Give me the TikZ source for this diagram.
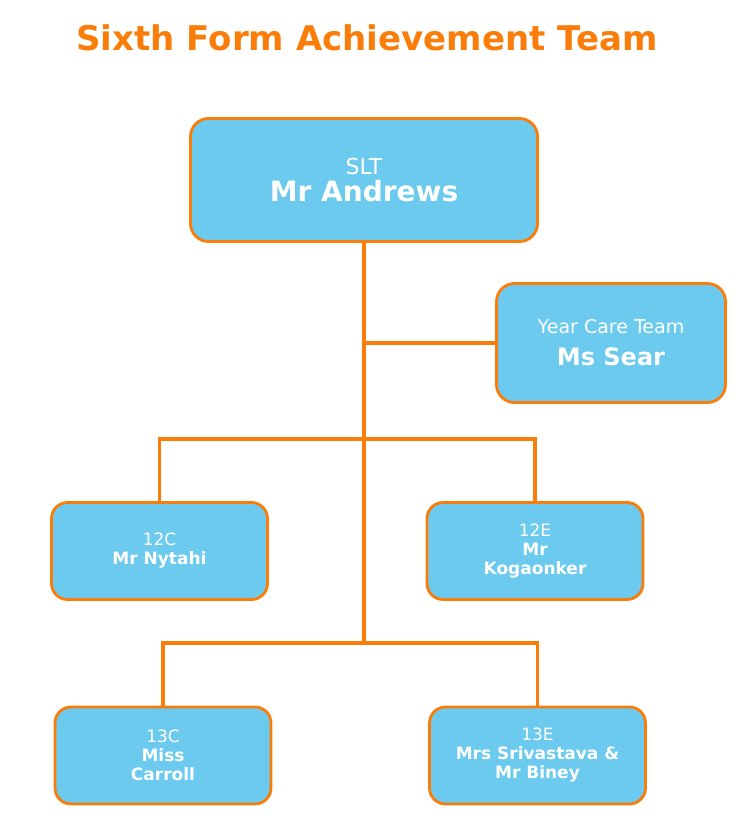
\documentclass[tikz,border=0pt]{standalone}
\usepackage{fontspec}
\setmainfont{DejaVu Sans}
\usetikzlibrary{positioning}
\definecolor{ATOrange}{HTML}{FA7D0A}
\definecolor{ATSky}{HTML}{6BCAEE}
\tikzset{
  teambox/.style={draw=ATOrange, fill=ATSky, line width=2.8pt, rounded corners=16pt,
    text=white, align=center, inner sep=0pt},
  bigbox/.style={teambox, rounded corners=18pt},
  smallbox/.style={teambox, minimum width=216pt, minimum height=97pt,
    font=\fontsize{17}{19}\selectfont},
  link/.style={draw=ATOrange, line width=3.2pt},
}
\newcommand{\teamname}[1]{\textbf{#1}}

\begin{document}
\begin{tikzpicture}[x=1pt,y=-1pt]
  \useasboundingbox (0,0) rectangle (751,830);

  \node[text=ATOrange, font=\fontsize{34}{40}\selectfont\bfseries] (title) at (367,38)
    {Sixth Form Achievement Team};

  % leaders
  \node[bigbox, minimum width=347pt, minimum height=123pt] (slt) at (364,180)
    {\fontsize{22}{25}\selectfont SLT\\[5pt]
     \fontsize{28}{30}\selectfont\teamname{Mr Andrews}};
  \node[bigbox, minimum width=229pt, minimum height=119pt] (sear) at (611,343)
    {\fontsize{19}{22}\selectfont Year Care Team\\[13pt]
     \fontsize{24}{26}\selectfont\teamname{Ms Sear}};

  % tutor groups
  \node[smallbox] (c12) at (159.5,551) {12C\\\teamname{Mr Nytahi}};
  \node[smallbox] (e12) at (535,551) {12E\\\teamname{Mr}\\\teamname{Kogaonker}};
  \node[smallbox] (c13) at (163,755.5) {13C\\\teamname{Miss}\\\teamname{Carroll}};
  \node[smallbox] (e13) at (537.5,755.5) {13E\\\teamname{Mrs Srivastava \&}\\\teamname{Mr Biney}};

  \coordinate (bar12) at (364,439);
  \coordinate (bar13) at (364,643);

  \draw[link] (slt.south) -- (bar13);
  \draw[link] (slt.south |- sear.west) -- (sear.west);
  \draw[link] (c12.north) |- (bar12) -| (e12.north);
  \draw[link] (c13.north) |- (bar13) -| (e13.north);
\end{tikzpicture}
\end{document}
